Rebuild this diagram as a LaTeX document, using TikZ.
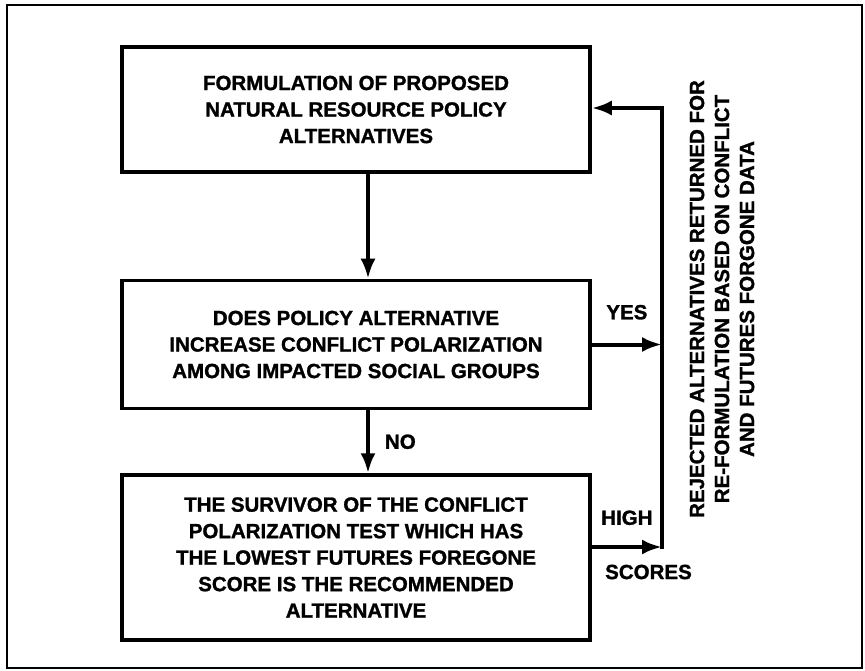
\documentclass[tikz,border=0pt]{standalone}
\usepackage{fontspec}
\setmainfont{Liberation Sans}[BoldFeatures={FakeBold=1.3}]
\usetikzlibrary{positioning,arrows.meta}

\begin{document}
\begin{tikzpicture}[x=1pt, y=-1pt, font=\bfseries\fontsize{20.5}{26.5}\selectfont,
  st/.style={draw, line width=3.5pt, align=center, minimum width=468pt, inner sep=0pt},
  tr/.style={-{Latex[length=20pt,width=15pt]}, line width=4pt},
  lbl/.style={inner sep=0pt}]
\useasboundingbox (0,0) rectangle (865,671);
\draw[line width=2.5pt] (7,5) rectangle (862,668);
\node[st, minimum height=125pt] (form) at (356,109.5) {FORMULATION OF PROPOSED\\NATURAL RESOURCE POLICY\\ALTERNATIVES};
\node[st, minimum height=128pt, below=105pt of form] (test) {DOES POLICY ALTERNATIVE\\INCREASE CONFLICT POLARIZATION\\AMONG IMPACTED SOCIAL GROUPS};
\node[st, minimum height=165pt, below=63pt of test] (pick) {THE SURVIVOR OF THE CONFLICT\\POLARIZATION TEST WHICH HAS\\THE LOWEST FUTURES FOREGONE\\SCORE IS THE RECOMMENDED\\ALTERNATIVE};
\coordinate (rtop) at (662,108);
\coordinate (rbot) at (662,547);
\draw[tr] ([xshift=12pt]form.south) -- ([xshift=12pt]test.north);
\draw[tr] ([xshift=12pt]test.south) -- node[lbl, right=15pt] (no) {NO} ([xshift=12pt]pick.north);
\draw[tr] (test.east) -- node[lbl, above=23pt] (yes) {YES} (test.east -| rtop);
\draw[tr] (pick.east |- rbot) -- node[lbl, above=20pt] (high) {HIGH} (rbot);
\node[lbl, anchor=west] (scores) at (605,572) {SCORES};
\draw[line width=4pt, line cap=rect] (rbot) -- (rtop);
\draw[tr] (rtop) -- (form.east |- rtop);
\node[lbl, rotate=90, align=center, font=\bfseries\fontsize{20.5}{25}\selectfont] (note) at (722,299) {REJECTED ALTERNATIVES RETURNED FOR\\RE-FORMULATION BASED ON CONFLICT\\AND FUTURES FORGONE DATA};
\end{tikzpicture}
\end{document}
